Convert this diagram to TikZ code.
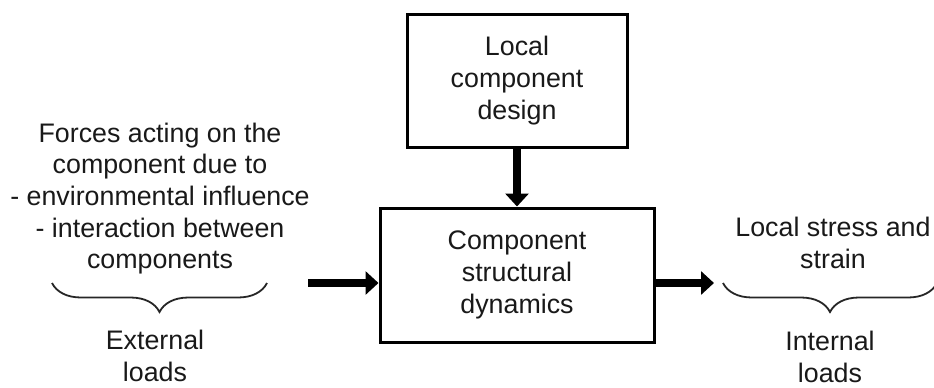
\documentclass[tikz,border=0pt]{standalone}
\usepackage{fontspec}
\setmainfont{Liberation Sans}
\usetikzlibrary{arrows.meta,decorations.pathreplacing}

\begin{document}
\begin{tikzpicture}
[x=0.5pt, y=-0.5pt,
 every node/.style={text=black!90, font=\fontsize{13.4}{15.8}\selectfont},
 block/.style={draw, line width=1.5pt, align=center, inner sep=0pt},
 flow/.style={line width=4pt, -{Triangle[width=11.5pt,length=6.5pt]}},
 loadbrace/.style={decorate, decoration={brace, mirror, amplitude=14.5pt}, line width=0.9pt, black!85}]
\useasboundingbox (0,0) rectangle (934,387);

\node [block, minimum width=110pt, minimum height=66.5pt] (design) at (517,80.5)
  {Local\\component\\design};
\node [block, minimum width=137pt, minimum height=67pt] (dyn) at (517,275)
  {Component\\structural\\dynamics};

\draw [flow] (design.south)--(dyn.north);

\coordinate (in) at (308,283);
\coordinate (out) at (714,283);
\draw [flow] (in)--(in -| dyn.west);
\draw [flow] (out -| dyn.east)--(out);

% external side
\node [align=center] (forces) at (160,198.5)
  {Forces acting on the\\component due to\\- environmental influence\\- interaction between\\components};
\coordinate (extL) at (52,283);
\coordinate (extR) at (267,283);
\draw [loadbrace] (extL)--(extR);
\node [align=center] (ext) at (155,356) {External\\loads};

% internal side
\node [align=center] (stress) at (833,243) {Local stress and\\strain};
\coordinate (intL) at (723,283);
\coordinate (intR) at (937,283);
\draw [loadbrace] (intL)--(intR);
\node [align=center] (int) at (830,357) {Internal\\loads};
\end{tikzpicture}
\end{document}
